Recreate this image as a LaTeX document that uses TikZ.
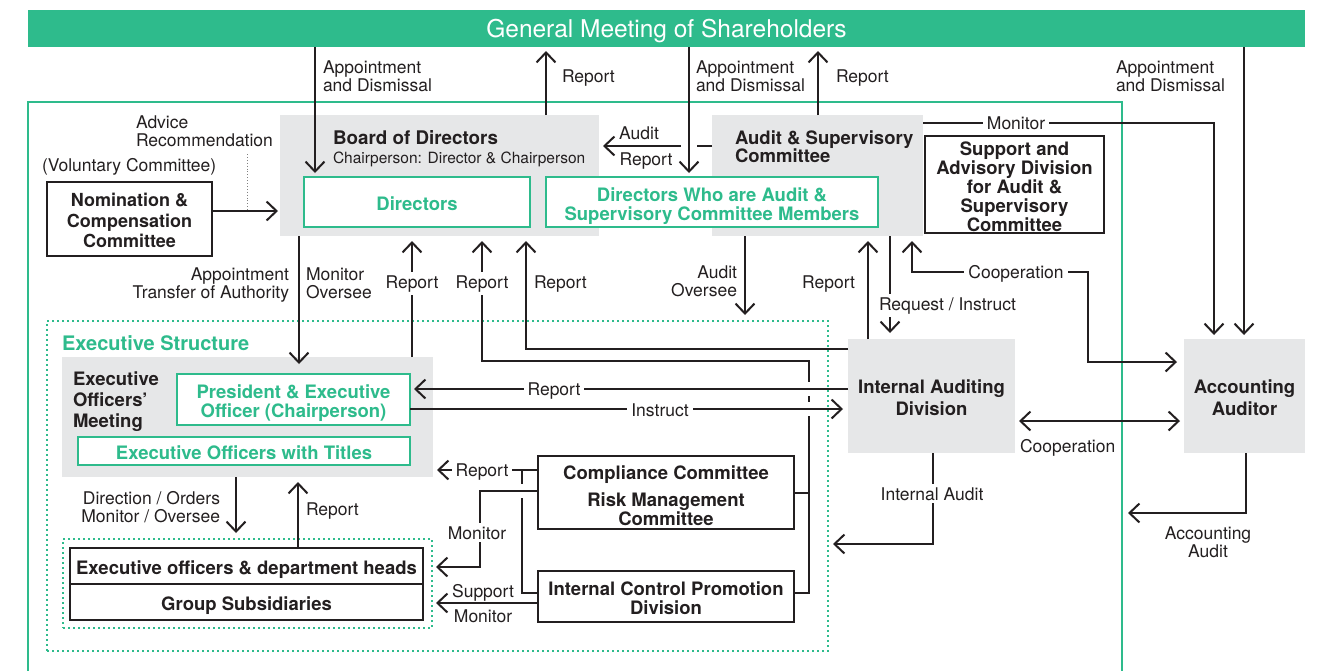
\documentclass[tikz,border=0pt]{standalone}
\usepackage{fontspec}
\setmainfont{TeX Gyre Heros}
\usetikzlibrary{arrows.meta}
\definecolor{grn}{HTML}{2EBB8C}
\definecolor{boxgray}{HTML}{E6E7E8}
\definecolor{ink}{HTML}{231F20}
\newcommand\lblf{\fontsize{17.5}{18}\selectfont}
\newcommand\boxf{\fontsize{18.5}{19}\selectfont\bfseries}
\tikzset{
  every node/.style={inner sep=0pt, outer sep=0pt, text=ink},
  grayb/.style={fill=boxgray, anchor=north west},
  grnb/.style={fill=white, draw=grn, line width=2.2pt, anchor=north west},
  blkb/.style={fill=white, draw=ink, line width=2.2pt, anchor=north west},
  btxt/.style={font=\boxf, align=center},
  gtxt/.style={btxt, text=grn},
  lbl/.style={font=\lblf, align=left},
  onl/.style={font=\lblf, fill=white, inner xsep=4pt, inner ysep=3pt},
  conn/.style={draw=ink, line width=2pt},
  arr/.style={conn, -{Straight Barb[length=10pt,width=19pt]}, shorten >=4pt},
  dbl/.style={conn, {Straight Barb[length=10pt,width=19pt]}-{Straight Barb[length=10pt,width=19pt]}, shorten >=4pt, shorten <=4pt},
  dots/.style={draw=grn, line width=2pt, dash pattern=on 2pt off 3pt, anchor=north west},
}
\begin{document}
\begin{tikzpicture}[x=1pt,y=-1pt]
\useasboundingbox (0,0) rectangle (1329,670);
% banner
\node[fill=grn, anchor=north west, minimum width=1277pt, minimum height=37pt] (gms) at (28,10) {};
\node[text=white, font=\fontsize{24.5}{25}\selectfont, anchor=base] (gmst) at (666.5,37.5) {General Meeting of Shareholders};
% outer frame
\draw[grn, line width=2pt] (28,672) -- (28,102) -- (1122,102) -- (1122,672);
% gray boxes
\node[grayb, minimum width=319pt, minimum height=121pt] (bod) at (280,115) {};
\node[grayb, minimum width=211pt, minimum height=121pt] (asc) at (712,115) {};
\node[grayb, minimum width=371pt, minimum height=120pt] (eom) at (62,357) {};
\node[grayb, minimum width=167pt, minimum height=114pt] (iad) at (848,339) {};
\node[grayb, minimum width=121pt, minimum height=114pt] (aa) at (1184,339) {};
\node[btxt, font=\fontsize{18.5}{22}\selectfont\bfseries] (iadt) at ([yshift=-2pt]iad.center) {Internal Auditing\\Division};
\node[btxt, font=\fontsize{18.5}{22}\selectfont\bfseries] (aat) at ([yshift=-2pt]aa.center) {Accounting\\Auditor};
% dotted frames
\node[dots, minimum width=781pt, minimum height=330pt] (exs) at (47,321) {};
\node[dots, minimum width=369pt, minimum height=89pt] (inner) at (63,539) {};
% white boxes
\node[grnb, minimum width=226pt, minimum height=50pt] (dir) at (304,177) {};
\node[gtxt] (dirt) at ([yshift=-2pt]dir.center) {Directors};
\node[grnb, minimum width=332pt, minimum height=50pt] (das) at (546,177) {};
\node[gtxt] (dast) at ([yshift=-4pt]das.center) {Directors Who are Audit \&\\Supervisory Committee Members};
\node[blkb, minimum width=179pt, minimum height=97pt] (sad) at (925,136) {};
\node[btxt] (sadt) at ([yshift=-2pt]sad.center) {Support and\\Advisory Division\\for Audit \&\\Supervisory\\Committee};
\node[blkb, minimum width=165pt, minimum height=74pt] (nom) at (47,182) {};
\node[btxt, font=\fontsize{18}{20.5}\selectfont\bfseries] (nomt) at ([yshift=-1.5pt]nom.center) {Nomination \&\\Compensation\\Committee};
\node[grnb, minimum width=233pt, minimum height=51pt] (pres) at (177,374) {};
\node[gtxt] (prest) at ([yshift=-4pt]pres.center) {President \& Executive\\Officer (Chairperson)};
\node[grnb, minimum width=332pt, minimum height=28pt] (eowt) at (78,437) {};
\node[gtxt] (eowtt) at ([yshift=-2pt]eowt.center) {Executive Officers with Titles};
\node[blkb, minimum width=256pt, minimum height=73pt] (comp) at (538,456) {};
\node[btxt] (compt) at ([yshift=-3pt]comp.center) {Compliance Committee\\[8pt]Risk Management\\Committee};
\node[blkb, minimum width=256pt, minimum height=51pt] (icpd) at (538,571) {};
\node[btxt] (icpdt) at ([yshift=-2pt]icpd.center) {Internal Control Promotion\\Division};
\node[blkb, minimum width=353pt, minimum height=36pt] (edh) at (70,548) {};
\node[btxt] (edht) at ([yshift=-4pt]edh.center) {Executive officers \& department heads};
\node[blkb, minimum width=353pt, minimum height=36pt] (grp) at (70,584) {};
\node[btxt] (grpt) at ([yshift=-4pt]grp.center) {Group Subsidiaries};
% box titles
\node[font=\fontsize{18.8}{19}\selectfont\bfseries, anchor=base west] (bodt) at (333,144.7) {Board of Directors};
\node[font=\fontsize{15.5}{16}\selectfont, anchor=base west] (bodc) at (333,163.6) {Chairperson: Director \& Chairperson};
\node[font=\fontsize{18.5}{18}\selectfont\bfseries, anchor=north west, align=left] (asct) at (735,131.2) {Audit \& Supervisory\\Committee};
\node[font=\fontsize{18.5}{21}\selectfont\bfseries, anchor=north west, align=left] (eomt) at (73,372) {Executive\\Officers’\\Meeting};
\node[font=\fontsize{20}{20}\selectfont\bfseries, text=grn, anchor=base west] (exst) at (62,350.5) {Executive Structure};
% ---------------- connectors
\draw[arr] (gms.south -| 315,0) -- (dir.north -| 315,0);
\draw[arr] (bod.north -| 546,0) -- (gms.south -| 546,0);
\draw[arr] (asc.west |- 0,146) -- (bod.east |- 0,146);
\draw[draw=white, line width=16pt] (689,143) -- (689,149);
\draw[arr] (gms.south -| 689,0) -- (das.north -| 689,0);
\draw[arr] (asc.north -| 818,0) -- (gms.south -| 818,0);
\draw[arr] (gms.south -| 1244,0) -- (aa.north -| 1244,0);
\draw[arr] (asc.east |- 0,123) -| (aa.north -| 1214,0);
\draw[arr, shorten >=2pt] (nom.east |- 0,211) -- (bod.west |- 0,211);
\coordinate (advtop) at (247,154);
\draw[gray, line width=0.9pt, dotted] (advtop) -- (advtop |- nom.east |- 0,211);
\draw[arr, shorten >=10pt] (bod.south -| 299,0) -- (pres.north -| 299,0);
\draw[arr, shorten >=5pt] (eom.north -| 412,0) -- (bod.south -| 412,0);
\draw[arr, shorten >=5pt] (icpd.east |- 0,593) -- (809,593) -- (809,361) -- (482,361) -- (bod.south -| 482,0);
\draw[conn] (comp.east |- 0,493) -- (809,493);
\draw[arr, shorten >=5pt] (iad.west |- 0,349) -| (bod.south -| 526,0);
\draw[arr, shorten >=6pt] (asc.south -| 745,0) -- (exs.north -| 745,0);
\draw[arr, shorten >=5pt] (iad.north -| 868,0) -- (asc.south -| 868,0);
\draw[arr, shorten >=6pt] (asc.south -| 890,0) -- (iad.north -| 890,0);
\draw[dbl, shorten <=5pt, shorten >=7pt] (asc.south -| 912,0) |- (1088,272) |- (aa.west |- 0,362);
\draw[dbl] (iad.east |- 0,421) -- (aa.west |- 0,421);
\coordinate (acc) at (1122,513);
\draw[arr, shorten >=6pt] (aa.south -| 1246,0) |- (acc);
\draw[arr, shorten >=5pt] (iad.south -| 933,0) |- (exs.east |- 0,544);
\fill[white] (805,382) rectangle (813,396);
\fill[white] (805,402) rectangle (813,416);
\draw[arr] (iad.west |- 0,389) -- (pres.east |- 0,389);
\draw[arr, shorten >=5pt] (pres.east |- 0,409) -- (iad.west |- 0,409);
\draw[arr, shorten >=6pt] (eom.south -| 236,0) -- (inner.north -| 236,0);
\draw[arr, shorten >=5pt] (edh.north -| 298,0) -- (eom.south -| 298,0);
\draw[arr] (comp.west |- 0,470) -- (eom.east |- 0,470);
\draw[conn] (522,470) |- (icpd.west |- 0,593);
\fill[white] (518,484) rectangle (526,498);
\draw[arr] (comp.west |- 0,491) -- (480,491) |- (inner.east |- 0,567);
\draw[arr] (icpd.west |- 0,603) -- (inner.east |- 0,603);
% ---------------- labels
\node[lbl, anchor=north west] (l1) at (323,60.5) {Appointment\\and Dismissal};
\node[lbl, anchor=base west] (l2) at (562,82) {Report};
\node[lbl, anchor=north west] (l3) at (696,60.5) {Appointment\\and Dismissal};
\node[lbl, anchor=base west] (l4) at (836,82) {Report};
\node[lbl, anchor=north west] (l5) at (1116,60.5) {Appointment\\and Dismissal};
\node[lbl, anchor=north west] (l6) at (136,115.5) {Advice\\Recommendation};
\node[lbl, anchor=base west] (l7) at (42,171) {(Voluntary Committee)};
\node[lbl, anchor=base] (l8) at (639,139) {Audit};
\node[lbl, anchor=base] (l9) at (646,165) {Report};
\node[onl, anchor=base] (l10) at (1016,129) {Monitor};
\node[lbl, anchor=north east, align=right] (l11) at (289,267.5) {Appointment\\Transfer of Authority};
\node[lbl, anchor=north west] (l12) at (306,267.5) {Monitor\\Oversee};
\node[onl, anchor=base] (l13) at (412,288) {Report};
\node[onl, anchor=base] (l14) at (482,288) {Report};
\node[lbl, anchor=base west] (l15) at (534,288) {Report};
\node[lbl, anchor=north east, align=right] (l16) at (737,265.5) {Audit\\Oversee};
\node[lbl, anchor=base east] (l17) at (855,288) {Report};
\node[onl, anchor=base west, inner xsep=0pt] (l18) at (879,310) {Request / Instruct};
\node[onl, anchor=base] (l19) at (1016,278) {Cooperation};
\node[onl, anchor=base] (l20) at (554,395) {Report};
\node[onl, anchor=base] (l21) at (660,416) {Instruct};
\node[lbl, anchor=base west] (l22) at (1020,452) {Cooperation};
\node[lbl, anchor=north, align=center] (l23) at (1208,526.5) {Accounting\\Audit};
\node[onl, anchor=base] (l24) at (932,500) {Internal Audit};
\node[onl, anchor=base] (l25) at (482,476) {Report};
\node[onl, anchor=base] (l26) at (477,539) {Monitor};
\node[lbl, anchor=base] (l27) at (483,597) {Support};
\node[lbl, anchor=base] (l28) at (483,622) {Monitor};
\node[lbl, anchor=north east, align=right] (l29) at (220,491.5) {Direction / Orders\\Monitor / Oversee};
\node[lbl, anchor=base west] (l30) at (306,515) {Report};
\end{tikzpicture}
\end{document}
